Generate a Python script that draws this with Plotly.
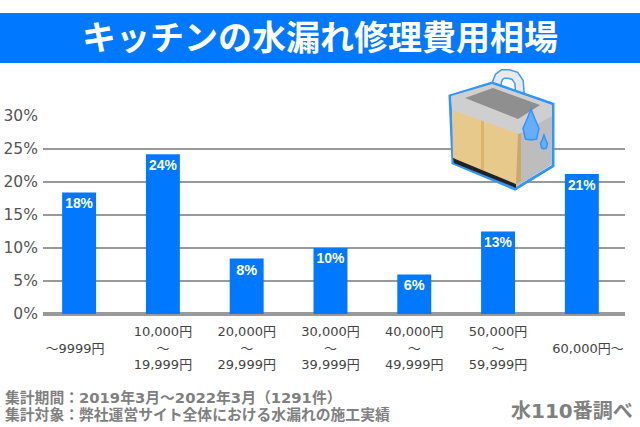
import plotly.graph_objects as go

# values
price_labels = [' <br>～9999円\u00a0\u00a0<br> ', '10,000円<br>～<br>19,999円', '20,000円<br>～<br>29,999円',
                '30,000円<br>～<br>39,999円', '40,000円<br>～<br>49,999円',
                '50,000円<br>～<br>59,999円', ' <br>\u00a0\u00a0\u00a060,000円～<br> ']
share_values = [18.4, 24.2, 8.4, 10.0, 6.0, 12.5, 21.2]
share_labels = ['18%', '24%', '8%', '10%', '6%', '13%', '21%']
y_ticks = [0, 5, 10, 15, 20, 25, 30]
y_tick_labels = ['0%', '5%', '10%', '15%', '20%', '25%', '30%']

BLUE = '#0078ff'
GRID = '#999999'
FONT = 'Liberation Sans, Noto Sans CJK JP, sans-serif'
WIDE_FONT = 'DejaVu Sans, Noto Sans CJK JP, sans-serif'
WIDTH, HEIGHT = 640, 427
LEFT, RIGHT, TOP, BOTTOM = 43, 625, 116, 314


def px(x, y):
    return (x - LEFT) / (RIGHT - LEFT), (BOTTOM - y) / (BOTTOM - TOP)


def path(points, closed=True):
    # points are page pixels, the shapes are placed in paper coordinates
    conv = [px(x, y) for x, y in points]
    d = 'M ' + ' L '.join(f'{x:.4f},{y:.4f}' for x, y in conv)
    return d + (' Z' if closed else '')


def sink_shape(points, fill, line=None, width=0, closed=True):
    return dict(type='path', xref='paper', yref='paper', path=path(points, closed),
                fillcolor=fill if closed else 'rgba(0,0,0,0)',
                line=dict(color=line or 'rgba(0,0,0,0)', width=width), layer='above')


def drop(cx, top, bottom, half):
    h = bottom - top
    return [(cx, top), (cx + half * 0.45, top + h * 0.3), (cx + half, top + h * 0.62),
            (cx + half * 0.7, bottom - 1), (cx, bottom), (cx - half * 0.7, bottom - 1),
            (cx - half, top + h * 0.62), (cx - half * 0.45, top + h * 0.3)]


FAUCET = [(497, 90), (497, 82), (499, 77), (503, 74), (509, 74), (515, 76), (519, 82), (520, 95)]

shapes = [
    # title band
    dict(type='rect', xref='paper', yref='paper', x0=px(0, 0)[0], x1=px(640, 0)[0],
         y0=px(0, 63)[1], y1=px(0, 13)[1], fillcolor=BLUE, line_width=0, layer='above'),
    # faucet
    sink_shape(FAUCET, '', '#3b9bff', 10, closed=False),
    sink_shape(FAUCET, '', '#e9e9e9', 7, closed=False),
    # body outline
    sink_shape([(450, 96), (492, 83), (553, 104), (553, 166), (515, 189), (453, 163)],
               '#ffffff', '#2f95ff', 3),
    # side
    sink_shape([(520, 130), (552, 110), (551, 165), (516, 187)], '#bdbdbd'),
    # cabinet front
    sink_shape([(452, 108), (521, 132), (521, 180), (516, 184), (453, 158)], '#e8c98c'),
    sink_shape([(481, 120), (484, 120), (484, 170), (481, 169)], '#dcb36b'),
    sink_shape([(518, 133), (521, 132), (521, 181), (516, 184)], '#c9a869'),
    # plinth
    sink_shape([(453, 158), (516, 184), (516, 188), (454, 163)], '#222222'),
    # counter top
    sink_shape([(451, 96), (492, 84), (552, 105), (552, 116), (519, 134), (452, 110)], '#cfcfcf'),
    sink_shape([(465, 98), (493, 88), (540, 105), (518, 119)], '#8f8f8f'),
    # drops
    sink_shape(drop(531, 109, 140, 8), '#66adff', '#2f95ff', 1.5),
    sink_shape(drop(544, 135, 149, 3.5), '#66adff', '#2f95ff', 1.5),
]

fig = go.Figure(go.Bar(
    x=list(range(len(share_values))), y=share_values, width=0.405,
    marker=dict(color=BLUE, line_width=0),
    text=share_labels, textposition='inside', insidetextanchor='end',
    textangle=0,
    textfont=dict(family=FONT, size=14.5, color='white', weight='bold'),
))

fig.update_layout(
    width=WIDTH, height=HEIGHT, showlegend=False,
    margin=dict(l=LEFT, r=WIDTH - RIGHT, t=TOP, b=HEIGHT - BOTTOM, pad=0),
    paper_bgcolor='white', plot_bgcolor='white',
    font=dict(family=FONT, color='#444444'),
    shapes=shapes,
    annotations=[
        dict(text='キッチンの水漏れ修理費用相場', xref='paper', yref='paper', x=px(320, 0)[0], y=px(0, 38)[1],
             xanchor='center', yanchor='middle', showarrow=False,
             font=dict(size=34, color='white', family=FONT, weight='bold')),
        dict(text='集計期間：2019年3月～2022年3月（1291件）', xref='paper', yref='paper',
             x=px(3, 0)[0], y=px(0, 397)[1], xanchor='left', yanchor='middle', showarrow=False,
             font=dict(size=14.8, color='#808080', family=WIDE_FONT, weight='bold')),
        dict(text='集計対象：弊社運営サイト全体における水漏れの施工実績', xref='paper', yref='paper',
             x=px(3, 0)[0], y=px(0, 415)[1], xanchor='left', yanchor='middle', showarrow=False,
             font=dict(size=14.8, color='#808080', family=WIDE_FONT, weight='bold')),
        dict(text='水110番調べ', xref='paper', yref='paper', x=px(635, 0)[0], y=px(0, 411)[1],
             xanchor='right', yanchor='middle', showarrow=False,
             font=dict(size=20, color='#808080', family=WIDE_FONT, weight='bold')),
    ],
)
fig.update_xaxes(
    range=[-0.431, 6.515], tickmode='array', tickvals=list(range(7)), ticktext=price_labels,
    tickangle=0, tickfont=dict(size=13, color='#444444', family=WIDE_FONT),
    ticks='outside', ticklen=5, tickcolor='rgba(0,0,0,0)', showgrid=False,
    zeroline=False, showline=False, automargin=False,
)
fig.update_yaxes(
    range=[0, 30], tickmode='array', tickvals=y_ticks, ticktext=y_tick_labels,
    tickfont=dict(size=15.5, color='#555555', family=WIDE_FONT),
    ticks='outside', ticklen=1, tickcolor='rgba(0,0,0,0)', gridcolor=GRID, gridwidth=2,
    zeroline=True, zerolinecolor=GRID, zerolinewidth=4, showline=False, automargin=False,
)

fig.write_html(
    "out.html",
    config={'displayModeBar': False},
    post_script="document.body.style.margin = '0';",
)
